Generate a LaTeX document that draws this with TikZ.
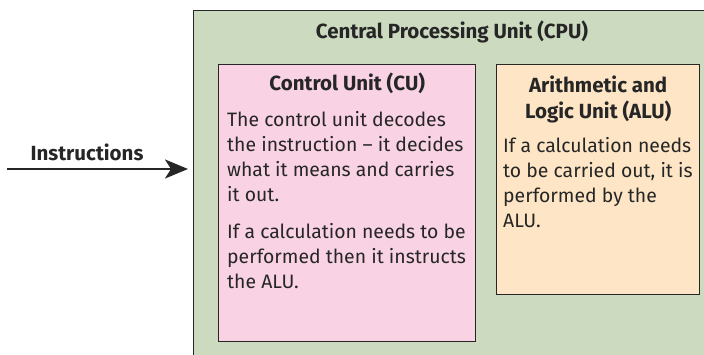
\documentclass[tikz,border=0pt]{standalone}
\usepackage{fontspec}
\setmainfont{Fira Sans}
\usetikzlibrary{arrows.meta}

\definecolor{cpugreen}{HTML}{CCDAC0}
\definecolor{cupink}{HTML}{F9D3E4}
\definecolor{alupeach}{HTML}{FDE5C5}
\definecolor{edge}{HTML}{262626}

\tikzset{
  unitbox/.style = {shape=rectangle, draw=edge, line width=1.4pt,
      anchor=north west, inner sep=0pt},
  unittitle/.style = {font=\fontsize{20.5}{26}\selectfont\bfseries,
      align=center, text=edge, inner sep=0pt, anchor=base},
  unitbody/.style = {font=\fontsize{19.4}{25}\selectfont, align=left,
      text=edge, inner sep=0pt, anchor=base west},
}

\begin{document}
\begin{tikzpicture}[x=1pt, y=-1pt]
  \useasboundingbox (0,0) rectangle (704,354);
  \clip (0,0) rectangle (704,354);
  % processor and its two units
  \node[unitbox, fill=cpugreen, minimum width=530pt, minimum height=360pt]
    (cpu) at (193,10) {};
  \node[unittitle] (cputitle) at (452,38) {Central Processing Unit (CPU)};
  \node[unitbox, fill=cupink, minimum width=257pt, minimum height=277pt]
    (cu) at (218,64) {};
  \node[unittitle] (cutitle) at (cu.north |- 0,90) {Control Unit (CU)};
  \node[unitbody] (cutext) at (227,288)
    {The control unit decodes\\ the instruction -- it decides\\
     what it means and carries\\ it out.\\[12pt]
     If a calculation needs to be\\ performed then it instructs\\ the ALU.};
  \node[unitbox, fill=alupeach, minimum width=203pt, minimum height=230pt]
    (alu) at (496,64) {};
  % last line of the title sits on the base anchor
  \node[unittitle] (alutitle) at (alu.north |- 0,118)
    {Arithmetic and\\ Logic Unit (ALU)};
  \node[unitbody] (alutext) at (503,227)
    {If a calculation needs\\ to be carried out, it is\\ performed by the\\ ALU.};
  % incoming instructions
  \coordinate (instart) at (7,169);
  \coordinate (intip) at ([xshift=-5pt]instart -| cpu.west);
  \node[unittitle] (inlabel) at (87,160) {Instructions};
  \draw[edge, line width=2.4pt, -{Stealth[length=23pt, width=19pt, inset=6pt]}]
    (instart) -- (intip);
\end{tikzpicture}
\end{document}
